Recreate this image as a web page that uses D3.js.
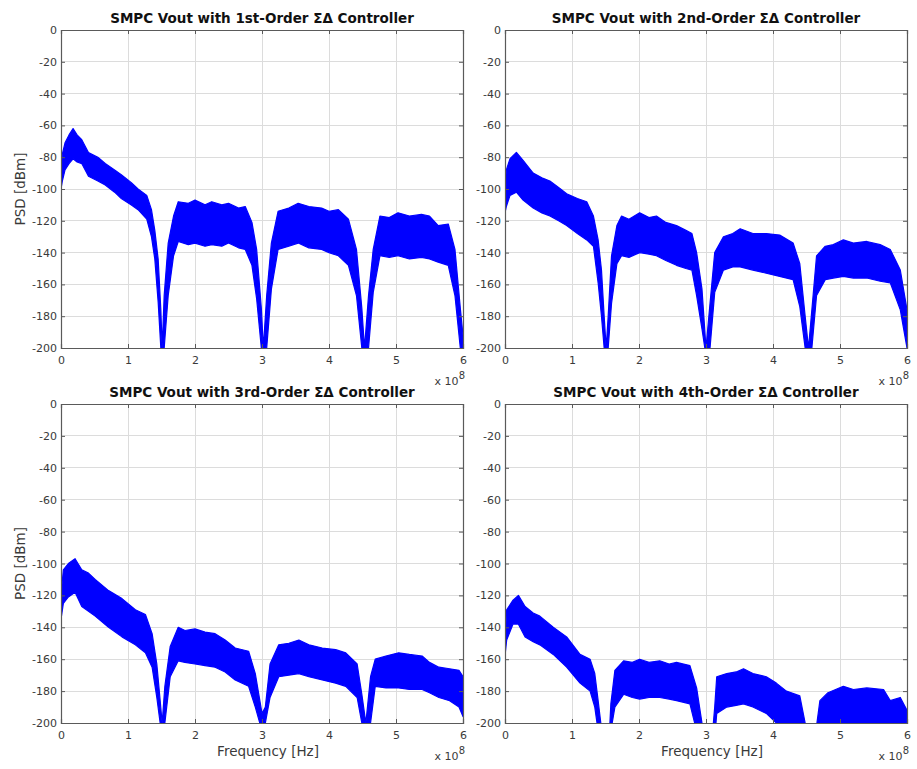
<!DOCTYPE html>
<html><head><meta charset="utf-8">
<script src="https://cdn.jsdelivr.net/npm/d3@7"></script>
<style>body{margin:0;background:#fff} svg{display:block}</style>
</head><body>
<svg id="c" width="917" height="769"></svg>
<script>
const titles = [
  "SMPC Vout with 1st-Order \u03A3\u0394 Controller",
  "SMPC Vout with 2nd-Order \u03A3\u0394 Controller",
  "SMPC Vout with 3rd-Order \u03A3\u0394 Controller",
  "SMPC Vout with 4th-Order \u03A3\u0394 Controller"
];
const xTicks = [0, 1, 2, 3, 4, 5, 6];
const yTicks = [0, -20, -40, -60, -80, -100, -120, -140, -160, -180, -200];
const xLabel = "Frequency [Hz]";
const yLabel = "PSD [dBm]";
const xExponent = "8";

// frequency in units of 1e8 Hz, PSD envelopes in dBm
const freq1 = [0,0.02,0.06,0.12,0.18,0.24,0.31,0.41,0.55,0.66,0.8,0.9,1.05,1.15,1.28,1.35,1.40,1.45,1.49,1.51,1.54,1.60,1.68,1.75,1.9,2.0,2.15,2.25,2.4,2.5,2.65,2.75,2.85,2.92,2.99,3.02,3.07,3.14,3.24,3.4,3.54,3.7,3.89,4.0,4.14,4.29,4.41,4.49,4.53,4.59,4.66,4.76,4.9,5.03,5.2,5.38,5.5,5.63,5.78,5.88,5.96,6.0];
const upper1 = [-88,-78,-71,-66,-62,-66,-69,-77,-80,-84,-88,-91,-96,-100,-104,-113,-126,-144,-176,-200,-167,-134,-117,-108,-109,-107,-110,-108,-110,-109,-112,-111,-121,-138,-175,-200,-167,-134,-114,-112,-109,-111,-112,-114,-113,-119,-138,-175,-200,-167,-138,-117,-118,-115,-117,-116,-117,-123,-122,-138,-175,-192];
const lower1 = [-100,-95,-88,-84,-81,-83,-84,-92,-95,-97.5,-102,-106,-110,-113,-119,-130,-144,-171,-200,-205,-200,-167,-142,-133,-135,-134,-136,-135,-136,-134,-137,-138,-148,-169,-200,-205,-200,-163,-138,-136,-134,-137,-138,-140,-142,-148,-167,-200,-205,-200,-165,-142,-143,-142,-144,-143,-144,-146,-148,-167,-200,-205];

const freq2 = [0,0.02,0.075,0.17,0.27,0.42,0.55,0.67,0.8,0.92,1.08,1.22,1.32,1.39,1.44,1.48,1.51,1.54,1.59,1.67,1.74,1.85,2.01,2.15,2.26,2.4,2.56,2.7,2.79,2.86,2.94,3.0,3.06,3.13,3.26,3.4,3.51,3.7,3.9,4.1,4.3,4.4,4.48,4.53,4.58,4.65,4.78,4.9,5.05,5.2,5.4,5.6,5.75,5.9,6.0];
const upper2 = [-100,-88,-81,-77,-82,-90,-93,-95,-99,-103,-106,-108,-117,-132,-151,-180,-200,-180,-142,-123,-117,-119,-115,-118,-117,-121,-123,-126,-128,-140,-163,-200,-172,-140,-130,-128,-125,-128,-128,-129,-134,-147,-180,-200,-176,-142,-136,-135,-132,-134,-133,-135,-138,-151,-176];
const lower2 = [-115,-111,-104,-102,-107,-112,-115,-117,-120,-123,-128,-132,-136,-159,-180,-200,-205,-200,-172,-147,-142,-143,-140,-141,-142,-145,-148,-150,-151,-167,-188,-205,-200,-165,-151,-149,-149,-151,-153,-155,-157,-174,-200,-205,-200,-167,-157,-156,-155,-156,-156,-158,-159,-176,-200];

const freq3 = [0,0.035,0.11,0.21,0.31,0.41,0.51,0.71,0.91,1.11,1.26,1.36,1.43,1.48,1.51,1.55,1.63,1.75,1.85,2.0,2.15,2.3,2.45,2.6,2.8,2.9,3.0,3.05,3.12,3.25,3.4,3.55,3.7,3.9,4.1,4.25,4.42,4.49,4.55,4.62,4.69,4.85,5.04,5.2,5.39,5.5,5.64,5.8,5.94,6.0];
const upper3 = [-120,-104,-100,-97,-104,-106,-110,-117,-122,-129,-132,-144,-163,-186,-200,-177,-152,-140,-142,-141,-143,-144,-148,-153,-155,-169,-194,-190,-163,-151,-150,-148,-151,-153,-154,-156,-163,-182,-200,-171,-160,-158,-156,-157,-158,-162,-165,-166,-167,-171];
const lower3 = [-135,-125,-121,-118,-127,-130,-133,-140,-146,-151,-156,-165,-184,-200,-205,-200,-171,-161,-162,-163,-164,-165,-168,-173,-177,-190,-205,-200,-184,-171,-170,-169,-171,-173,-175,-177,-184,-200,-205,-200,-177,-178,-178,-179,-179,-181,-184,-186,-190,-196];

const freq4 = [0,0.025,0.12,0.2,0.3,0.42,0.52,0.72,0.92,1.12,1.27,1.34,1.39,1.43,1.5,1.56,1.58,1.64,1.77,1.9,2.01,2.15,2.31,2.45,2.56,2.76,2.86,2.94,3.0,3.1,3.13,3.16,3.31,3.45,3.56,3.7,3.9,4.05,4.2,4.4,4.48,4.56,4.64,4.7,4.82,5.05,5.2,5.4,5.65,5.75,5.9,6.0];
const upper4 = [-150,-129,-123,-120,-127,-131,-133,-140,-146,-157,-160,-169,-186,-200,-220,-205,-188,-167,-161,-162,-160,-162,-161,-163,-162,-164,-178,-200,-220,-205,-190,-171,-169,-168,-166,-169,-171,-175,-180,-183,-200,-220,-205,-186,-181,-177,-179,-178,-179,-186,-184,-192];
const lower4 = [-158,-148,-138,-138,-146,-149,-151,-157,-165,-175,-180,-190,-205,-220,-230,-220,-205,-190,-182,-184,-185,-184,-184,-185,-186,-188,-205,-220,-230,-220,-210,-194,-190,-189,-188,-190,-194,-200,-205,-205,-220,-230,-220,-205,-202,-202,-203,-203,-204,-205,-205,-205];

const series = [
  {f: freq1, hi: upper1, lo: lower1},
  {f: freq2, hi: upper2, lo: lower2},
  {f: freq3, hi: upper3, lo: lower3},
  {f: freq4, hi: upper4, lo: lower4}
];

const svg = d3.select("#c");
const colX = [[61, 463], [505, 907]];
const rowY = [[30, 348], [404, 723]];
const axisColor = "#5a5a5a";
const gridColor = "#dcdcdc";
const textColor = "#3a3a3a";
const font = "DejaVu Sans, Verdana, sans-serif";
const fmt = d => String(d);

series.forEach((s, i) => {
  const col = i % 2, row = Math.floor(i / 2);
  const [x0, x1] = colX[col];
  const [y0, y1] = rowY[row];
  const x = d3.scaleLinear().domain([0, 6]).range([x0, x1]);
  const y = d3.scaleLinear().domain([-200, 0]).range([y1, y0]);
  const g = svg.append("g");

  // grid
  g.append("g").selectAll("line").data(xTicks.slice(1, -1)).join("line")
    .attr("x1", d => x(d)).attr("x2", d => x(d)).attr("y1", y0).attr("y2", y1)
    .attr("stroke", gridColor).attr("stroke-width", 1).attr("shape-rendering", "crispEdges");
  g.append("g").selectAll("line").data(yTicks.slice(1, -1)).join("line")
    .attr("y1", d => y(d)).attr("y2", d => y(d)).attr("x1", x0).attr("x2", x1)
    .attr("stroke", gridColor).attr("stroke-width", 1).attr("shape-rendering", "crispEdges");

  // data band
  const clipId = "clip" + i;
  svg.append("clipPath").attr("id", clipId).append("rect")
    .attr("x", x0).attr("y", y0).attr("width", x1 - x0).attr("height", y1 - y0);
  const pts = s.f.map((f, k) => ({f, hi: s.hi[k], lo: s.lo[k]}));
  const area = d3.area().x(d => x(d.f)).y0(d => y(d.lo)).y1(d => y(d.hi)).curve(d3.curveLinear);
  g.append("path").datum(pts).attr("d", area)
    .attr("fill", "#0000ff").attr("stroke", "#0000ff").attr("stroke-width", 1.2)
    .attr("stroke-linejoin", "round")
    .attr("clip-path", `url(#${clipId})`);

  // axes with inward ticks
  const axB = d3.axisBottom(x).tickValues(xTicks).tickSize(-4).tickPadding(8).tickFormat(fmt);
  const axT = d3.axisTop(x).tickValues(xTicks).tickSize(-4).tickFormat("");
  const axL = d3.axisLeft(y).tickValues(yTicks).tickSize(-4).tickPadding(4).tickFormat(fmt);
  const axR = d3.axisRight(y).tickValues(yTicks).tickSize(-4).tickFormat("");
  const styleAxis = sel => {
    sel.select(".domain").attr("stroke", axisColor).attr("stroke-width", 1.2);
    sel.selectAll(".tick line").attr("stroke", axisColor);
    sel.selectAll(".tick text").attr("fill", textColor).style("font-family", font).style("font-size", "11px");
  };
  g.append("g").attr("transform", `translate(0,${y1})`).call(axB).call(styleAxis);
  g.append("g").attr("transform", `translate(0,${y0})`).call(axT).call(styleAxis);
  g.append("g").attr("transform", `translate(${x0},0)`).call(axL).call(styleAxis);
  g.append("g").attr("transform", `translate(${x1},0)`).call(axR).call(styleAxis);

  // title
  g.append("text").attr("x", (x0 + x1) / 2).attr("y", y0 - 7)
    .attr("text-anchor", "middle").attr("fill", "#111")
    .style("font-family", font).style("font-size", "13.5px").style("font-weight", "bold")
    .text(titles[i]);

  // exponent label
  const ex = g.append("text").attr("x", x1 + 2).attr("y", y1 + 37).attr("text-anchor", "end")
    .attr("fill", textColor).style("font-family", font).style("font-size", "11px");
  ex.append("tspan").text("x 10");
  ex.append("tspan").attr("dy", -6).style("font-size", "10px").text(xExponent);

  if (col === 0) {
    g.append("text").attr("transform", `translate(25,${(y0 + y1) / 2}) rotate(-90)`)
      .attr("text-anchor", "middle").attr("fill", textColor)
      .style("font-family", font).style("font-size", "13.5px").text(yLabel);
  }
  if (row === 1) {
    g.append("text").attr("x", (x0 + x1) / 2 + 6).attr("y", y1 + 33)
      .attr("text-anchor", "middle").attr("fill", textColor)
      .style("font-family", font).style("font-size", "13.5px").text(xLabel);
  }
});
</script>
</body></html>
